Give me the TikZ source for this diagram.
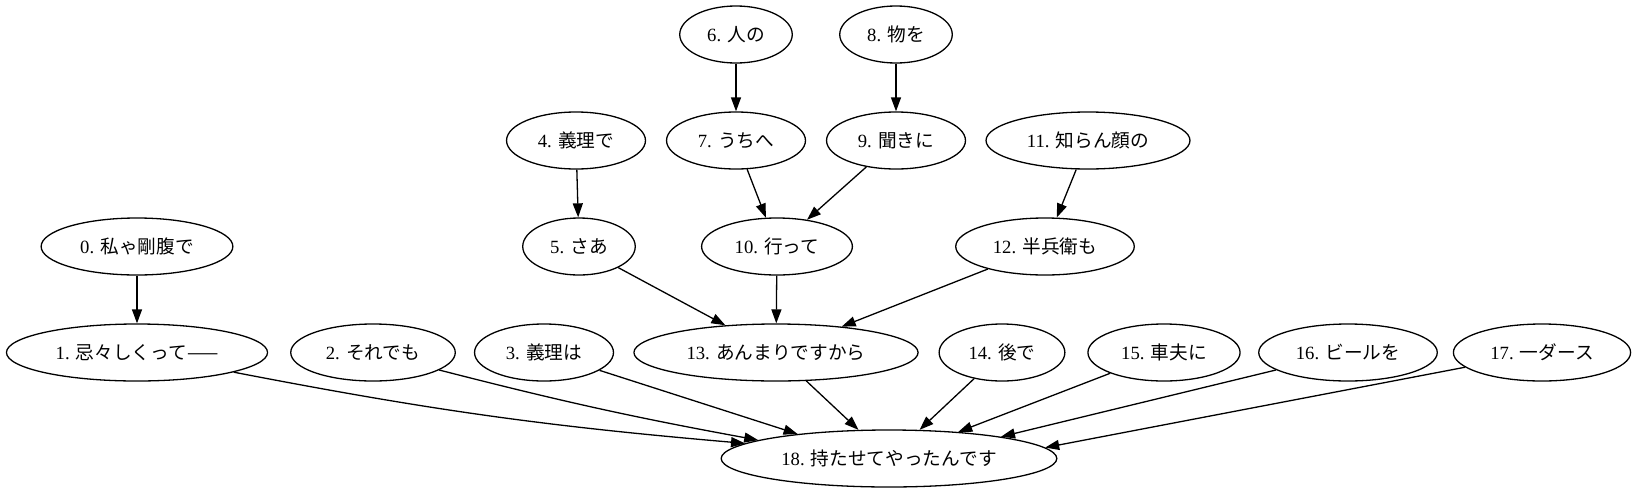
\documentclass[tikz,border=0pt]{standalone}
\usepackage{fontspec}
\setmainfont{Liberation Serif}
\newfontfamily\jpfont{Noto Sans CJK JP}
\usetikzlibrary{shapes.geometric, arrows.meta}
\tikzset{
    wordnode/.style={draw, ellipse, line width=1.3pt, minimum height=57pt,
        inner xsep=11pt, inner ysep=0pt,
        font=\fontsize{18.67}{22}\selectfont},
    deparrow/.style={line width=1.3pt, -{Triangle[length=14pt, width=10pt]}},
}
\newcommand{\jp}[1]{{\jpfont #1}}

\begin{document}
\begin{tikzpicture}[x=1pt, y=-1pt]
        \useasboundingbox (0, 0) rectangle (1633, 493);
        % top rows
        \node[wordnode] (word6) at (736, 34.5) {6. \jp{人の}};
        \node[wordnode] (word8) at (896, 34.5) {8. \jp{物を}};
        \node[wordnode] (word4) at (576, 140.5) {4. \jp{義理で}};
        \node[wordnode] (word7) at (736, 140.5) {7. \jp{うちへ}};
        \node[wordnode] (word9) at (896, 140.5) {9. \jp{聞きに}};
        \node[wordnode] (word11) at (1088, 140.5) {11. \jp{知らん顔の}};
        \node[wordnode] (word0) at (137, 246.5) {0. \jp{私ゃ剛腹で}};
        \node[wordnode] (word5) at (579, 246.5) {5. \jp{さあ}};
        \node[wordnode] (word10) at (777, 246.5) {10. \jp{行って}};
        \node[wordnode] (word12) at (1045, 246.5) {12. \jp{半兵衛も}};
        % row above the root
        \node[wordnode] (word1) at (137, 352.5) {1. \jp{忌々しくって——}};
        \node[wordnode] (word2) at (373, 352.5) {2. \jp{それでも}};
        \node[wordnode] (word3) at (544, 352.5) {3. \jp{義理は}};
        \node[wordnode] (word13) at (776, 352.5) {13. \jp{あんまりですから}};
        \node[wordnode] (word14) at (1002, 352.5) {14. \jp{後で}};
        \node[wordnode] (word15) at (1164, 352.5) {15. \jp{車夫に}};
        \node[wordnode] (word16) at (1348, 352.5) {16. \jp{ビールを}};
        \node[wordnode] (word17) at (1542, 352.5) {17. \jp{一ダース}};
        \node[wordnode] (word18) at (889, 458.5) {18. \jp{持たせてやったんです}};
        \draw[deparrow] (word6) -- (word7);
        \draw[deparrow] (word8) -- (word9);
        \draw[deparrow] (word4) -- (word5);
        \draw[deparrow] (word7) -- (word10);
        \draw[deparrow] (word9) -- (word10);
        \draw[deparrow] (word11) -- (word12);
        \draw[deparrow] (word0) -- (word1);
        \draw[deparrow] (word5) -- (word13);
        \draw[deparrow] (word10) -- (word13);
        \draw[deparrow] (word12) -- (word13);
        \draw[deparrow] (word1) to [bend right=3] (word18.174);
        \draw[deparrow] (word2) to [bend right=2] (word18.172);
        \draw[deparrow] (word3) -- (word18.165);
        \draw[deparrow] (word13) -- (word18);
        \draw[deparrow] (word14) -- (word18);
        \draw[deparrow] (word15) -- (word18.21);
        \draw[deparrow] (word16) -- (word18.11);
        \draw[deparrow] (word17) -- (word18.4);
    \end{tikzpicture}
\end{document}
